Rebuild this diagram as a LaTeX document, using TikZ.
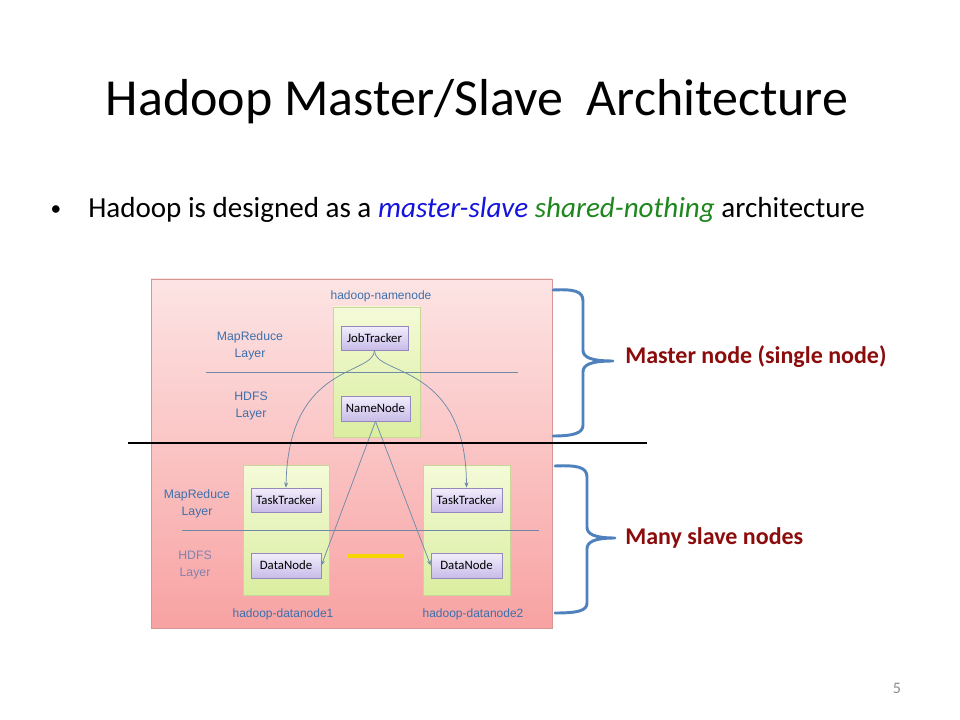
\documentclass[tikz,border=0pt]{standalone}
\usepackage{fontspec}
\setmainfont{Carlito}
\newfontfamily\diagfont{Liberation Sans}
\usetikzlibrary{arrows.meta,shadows}
\definecolor{pinktop}{RGB}{253,228,228}
\definecolor{pinkbot}{RGB}{248,162,162}
\definecolor{pinkedge}{RGB}{214,150,150}
\definecolor{greentop}{RGB}{244,250,216}
\definecolor{greenbot}{RGB}{218,238,160}
\definecolor{greenedge}{RGB}{200,214,150}
\definecolor{purptop}{RGB}{242,238,252}
\definecolor{purpbot}{RGB}{200,188,232}
\definecolor{purpedge}{RGB}{150,136,190}
\definecolor{layerblue}{RGB}{60,112,172}
\definecolor{layerfade}{RGB}{130,130,175}
\definecolor{linegrey}{RGB}{110,138,168}
\definecolor{bracecol}{RGB}{79,129,189}
\definecolor{darkred}{RGB}{140,12,12}
\definecolor{mblue}{RGB}{20,20,220}
\definecolor{sgreen}{RGB}{30,135,30}
\definecolor{pagegrey}{RGB}{140,140,140}
\begin{document}
\begin{tikzpicture}[x=0.75pt,y=-0.75pt,
  cluster/.style={rectangle, draw=pinkedge, line width=0.6pt, top color=pinktop, bottom color=pinkbot, inner sep=0pt},
  host/.style={rectangle, draw=greenedge, line width=0.5pt, top color=greentop, bottom color=greenbot, inner sep=0pt},
  daemon/.style={rectangle, draw=purpedge, line width=0.5pt, top color=purptop, bottom color=purpbot, inner sep=0pt,
     font=\fontsize{9.6}{11}\selectfont, drop shadow={shadow xshift=0.6pt, shadow yshift=-0.6pt, opacity=0.35}},
  layertxt/.style={align=center, text=layerblue, font=\diagfont\fontsize{9.2}{12.5}\selectfont, inner sep=0pt},
  hosttxt/.style={text=layerblue, font=\diagfont\fontsize{9}{10}\selectfont, inner sep=0pt, anchor=base},
  layerline/.style={draw=linegrey, line width=0.5pt},
  conn/.style={draw=linegrey, line width=0.55pt, -{Stealth[length=4pt,width=3pt]}},
  brace/.style={draw=bracecol, line width=2.2pt, line cap=round, line join=round},
  sidetxt/.style={text=darkred, font=\bfseries\fontsize{18}{20}\selectfont, anchor=base west, inner sep=0pt}
]
\useasboundingbox (0,0) rectangle (960,720);
\fill[white] (0,0) rectangle (960,720);

% title and bullet
\node[anchor=base, inner sep=0pt, font=\fontsize{39}{44}\selectfont] (title) at (477,116) {Hadoop Master/Slave\ \ Architecture};
\node[anchor=base, inner sep=0pt, font=\fontsize{16}{20}\selectfont] (bullet) at (56,216) {\textbullet};
\node[anchor=base west, inner sep=0pt, font=\fontsize{21.8}{24}\selectfont] (intro) at (88,218)
  {Hadoop is designed as a \textcolor{mblue}{\itshape master-slave} \textcolor{sgreen}{\itshape shared-nothing} architecture};

% cluster background
\node[cluster, minimum width=401*0.75pt, minimum height=349*0.75pt] (clusterbox) at (351.5,453.5) {};

% hosts
\node[host, minimum width=87*0.75pt, minimum height=130*0.75pt] (master) at (376.5,372) {};
\node[host, minimum width=86*0.75pt, minimum height=130*0.75pt] (host1) at (286,530) {};
\node[host, minimum width=87*0.75pt, minimum height=130*0.75pt] (host2) at (466.5,530) {};

% layer lines
\coordinate (ul1) at (206,372);
\coordinate (ul2) at (518,372);
\coordinate (ll1) at (182,530);
\coordinate (ll2) at (539,530);
\draw[layerline] (ul1) -- (ul2);
\draw[layerline] (ll1) -- (ll2);

% layer labels
\node[layertxt] (mrup) at (250,346) {MapReduce\\Layer};
\node[layertxt] (hdfsup) at (251,406) {HDFS\\Layer};
\node[layertxt] (mrlow) at (197,504) {MapReduce\\Layer};
\node[layertxt, text=layerfade] (hdfslow) at (195,565) {HDFS\\Layer};

% host names
\node[hosttxt] (nnname) at (381,300) {hadoop-namenode};
\node[hosttxt] (dn1name) at (283,617) {hadoop-datanode1};
\node[hosttxt] (dn2name) at (473,617) {hadoop-datanode2};

% daemons
\node[daemon, minimum width=67*0.75pt, minimum height=24*0.75pt] (jt) at (374.5,338) {JobTracker};
\node[daemon, minimum width=69*0.75pt, minimum height=25*0.75pt] (nn) at (375.5,408.5) {NameNode};
\node[daemon, minimum width=70*0.75pt, minimum height=24*0.75pt] (tt1) at (286,500) {TaskTracker};
\node[daemon, minimum width=71*0.75pt, minimum height=24*0.75pt] (tt2) at (466.5,500) {TaskTracker};
\node[daemon, minimum width=70*0.75pt, minimum height=25*0.75pt] (dnode1) at (286,565.5) {DataNode};
\node[daemon, minimum width=71*0.75pt, minimum height=25*0.75pt] (dnode2) at (466.5,565.5) {DataNode};

% connectors
\draw[conn] (jt.south) .. controls (374,376) and (288,362) .. (tt1.north);
\draw[conn] (jt.south) .. controls (374,376) and (466,362) .. (tt2.north);
\draw[conn] (nn.south) -- (dnode1.east);
\draw[conn] (nn.south) -- (dnode2.west);

% yellow dash
\coordinate (y1) at (347,556);
\coordinate (y2) at (403,556);
\draw[draw={rgb,255:red,246;green,214;blue,0}, line width=2.3pt] (y1) -- (y2);

% separator
\coordinate (s1) at (128,443);
\coordinate (s2) at (647,443);
\draw[line width=1.5pt] (s1) -- (s2);

% braces
\draw[brace] (553,290) .. controls (574,289) and (583,291) .. (583,301) -- (583,350)
  .. controls (583,357) and (590,361) .. (613,361)
  .. controls (590,361) and (583,365) .. (583,372) -- (583,425)
  .. controls (583,433) and (574,436) .. (553,436);
\draw[brace] (555,466) .. controls (577,465) and (587,467) .. (587,477) -- (587,527)
  .. controls (587,534) and (594,538) .. (615,538)
  .. controls (594,538) and (587,542) .. (587,549) -- (587,603)
  .. controls (587,611) and (577,613) .. (555,613);

\node[sidetxt] (mastertxt) at (625,363) {Master node (single node)};
\node[sidetxt] (slavetxt) at (625,544) {Many slave nodes};

% page number
\node[anchor=base, inner sep=0pt, text=pagegrey, font=\fontsize{12}{14}\selectfont] (pagenum) at (897,693) {5};
\end{tikzpicture}
\end{document}
